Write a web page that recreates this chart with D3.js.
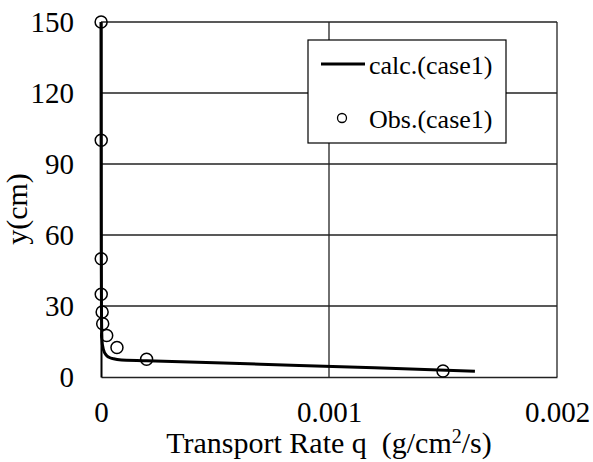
<!DOCTYPE html>
<html lang="en">
<head>
<meta charset="utf-8">
<script src="https://d3js.org/d3.v7.min.js"></script>
<style>
  body { margin: 0; background: #fff; }
  svg text { font-family: "Liberation Serif", "Times New Roman", serif; fill: #000; }
</style>
</head>
<body>
<script>
// observed points (case1)
var obsQ = [0.0000005, 0.000001, 0.000001, 0.000001, 0.000005, 0.0000075, 0.000025, 0.00007, 0.0002, 0.0015];
var obsY = [150, 100, 50, 35, 27.5, 22.5, 17.5, 12.5, 7.5, 2.5];

// calculated profile (case1)
var calcQ = [0, 0.0000005, 0.000001, 0.000002, 0.000004, 0.00001, 0.00002, 0.000032, 0.00005, 0.00009, 0.0002, 0.0007, 0.0012, 0.00164];
var calcY = [150, 100, 60, 30, 16, 11.8, 9.6, 8.5, 7.8, 7.2, 6.9, 5.4, 3.9, 2.4];

var xTicks = [0, 0.001, 0.002];
var xTickLabels = ["0", "0.001", "0.002"];
var yTicks = [0, 30, 60, 90, 120, 150];

var W = 593, H = 462;
var m = {top: 22, right: 36, bottom: 85, left: 101};

var svg = d3.select("body").append("svg")
  .attr("width", W)
  .attr("height", H);

var x = d3.scaleLinear().domain([0, 0.002]).range([m.left, W - m.right]);
var y = d3.scaleLinear().domain([0, 150]).range([H - m.bottom, m.top]);

// grid lines
svg.append("g")
  .selectAll("line.h")
  .data(yTicks.slice(1))
  .enter().append("line")
  .attr("x1", x(0)).attr("x2", x(0.002))
  .attr("y1", function(d) { return y(d); })
  .attr("y2", function(d) { return y(d); })
  .attr("stroke", "#222").attr("stroke-width", 1.3);

svg.append("g")
  .selectAll("line.v")
  .data(xTicks.slice(1))
  .enter().append("line")
  .attr("x1", function(d) { return x(d); })
  .attr("x2", function(d) { return x(d); })
  .attr("y1", y(0)).attr("y2", y(150))
  .attr("stroke", "#222").attr("stroke-width", 1.3);

// axes
var xAxis = d3.axisBottom(x).tickValues(xTicks).tickSize(0).tickPadding(24)
  .tickFormat(function(d, i) { return xTickLabels[i]; });
var gx = svg.append("g").attr("transform", "translate(0," + y(0) + ")").call(xAxis);
gx.select(".domain").attr("stroke", "#222").attr("stroke-width", 1.3);
gx.selectAll("text").attr("font-size", 29).attr("font-family", "Liberation Serif");

var yAxis = d3.axisLeft(y).tickValues(yTicks).tickSize(0).tickPadding(27);
var gy = svg.append("g").attr("transform", "translate(" + x(0) + ",0)").call(yAxis);
gy.select(".domain").attr("stroke", "#000").attr("stroke-width", 2);
gy.selectAll("text").attr("font-size", 29).attr("font-family", "Liberation Serif");

// calc line
var calc = calcQ.map(function(q, i) { return [q, calcY[i]]; });
var line = d3.line()
  .x(function(d) { return x(d[0]); })
  .y(function(d) { return y(d[1]); })
  .curve(d3.curveMonotoneY);
svg.append("path")
  .datum(calc)
  .attr("d", line)
  .attr("fill", "none")
  .attr("stroke", "#000")
  .attr("stroke-width", 3);

// observed circles
svg.append("g")
  .selectAll("circle")
  .data(obsQ.map(function(q, i) { return [q, obsY[i]]; }))
  .enter().append("circle")
  .attr("cx", function(d) { return x(d[0]); })
  .attr("cy", function(d) { return y(d[1]); })
  .attr("r", 6)
  .attr("fill", "none")
  .attr("stroke", "#000")
  .attr("stroke-width", 1.5);

// axis titles
var xt = svg.append("text")
  .attr("x", (x(0) + x(0.002)) / 2)
  .attr("y", 453)
  .attr("text-anchor", "middle")
  .attr("font-size", 30)
  .style("white-space", "pre");
xt.append("tspan").text("Transport Rate q  (g/cm");
xt.append("tspan").attr("dy", -10).attr("font-size", 20).text("2");
xt.append("tspan").attr("dy", 10).text("/s)");

svg.append("text")
  .attr("transform", "translate(27,209) rotate(-90)")
  .attr("text-anchor", "middle")
  .attr("font-size", 30)
  .text("y(cm)");

// legend
var lg = svg.append("g").attr("transform", "translate(308,40)");
lg.append("rect").attr("width", 198).attr("height", 103)
  .attr("fill", "#fff").attr("stroke", "#000").attr("stroke-width", 1.2);
lg.append("line").attr("x1", 13).attr("x2", 57).attr("y1", 24).attr("y2", 24)
  .attr("stroke", "#000").attr("stroke-width", 3);
lg.append("text").attr("x", 61).attr("y", 34).attr("font-size", 26).text("calc.(case1)");
lg.append("circle").attr("cx", 34).attr("cy", 78).attr("r", 4.5)
  .attr("fill", "none").attr("stroke", "#000").attr("stroke-width", 1.3);
lg.append("text").attr("x", 61).attr("y", 88).attr("font-size", 26).text("Obs.(case1)");
</script>
</body>
</html>
